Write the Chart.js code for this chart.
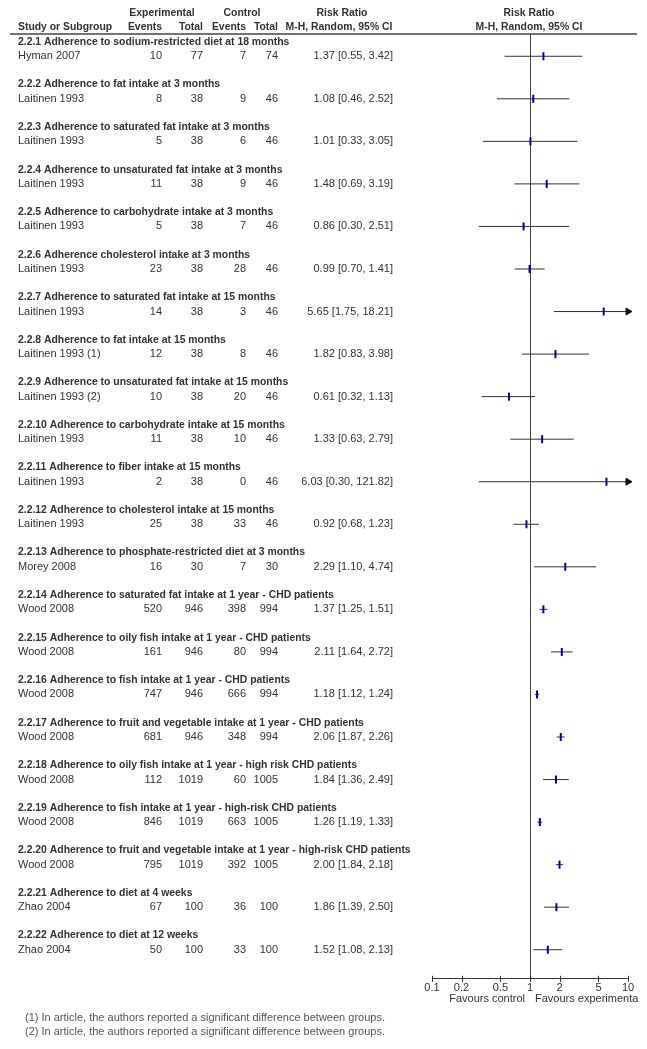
<!DOCTYPE html>
<html>
<head>
<meta charset="utf-8">
<script src="https://cdn.jsdelivr.net/npm/chart.js@4.4.0/dist/chart.umd.min.js"></script>
<style>
  html, body { margin: 0; padding: 0; background: #fff; }
  #wrap { width: 647px; height: 1049px; }
</style>
</head>
<body>
<div id="wrap"><canvas id="forest" width="647" height="1049"></canvas></div>
<script>
// Subgroups and their single study
const subgroups = [
    '2.2.1 Adherence to sodium-restricted diet at 18 months',
    '2.2.2 Adherence to fat intake at 3 months',
    '2.2.3 Adherence to saturated fat intake at 3 months',
    '2.2.4 Adherence to unsaturated fat intake at 3 months',
    '2.2.5 Adherence to carbohydrate intake at 3 months',
    '2.2.6 Adherence cholesterol intake at 3 months',
    '2.2.7 Adherence to saturated fat intake at 15 months',
    '2.2.8 Adherence to fat intake at 15 months',
    '2.2.9 Adherence to unsaturated fat intake at 15 months',
    '2.2.10 Adherence to carbohydrate intake at 15 months',
    '2.2.11 Adherence to fiber intake at 15 months',
    '2.2.12 Adherence to cholesterol intake at 15 months',
    '2.2.13 Adherence to phosphate-restricted diet at 3 months',
    '2.2.14 Adherence to saturated fat intake at 1 year - CHD patients',
    '2.2.15 Adherence to oily fish intake at 1 year - CHD patients',
    '2.2.16 Adherence to fish intake at 1 year - CHD patients',
    '2.2.17 Adherence to fruit and vegetable intake at 1 year - CHD patients',
    '2.2.18 Adherence to oily fish intake at 1 year - high risk CHD patients',
    '2.2.19 Adherence to fish intake at 1 year - high-risk CHD patients',
    '2.2.20 Adherence to fruit and vegetable intake at 1 year - high-risk CHD patients',
    '2.2.21 Adherence to diet at 4 weeks',
    '2.2.22 Adherence to diet at 12 weeks'
];
const studies = ['Hyman 2007', 'Laitinen 1993', 'Laitinen 1993', 'Laitinen 1993', 'Laitinen 1993',
    'Laitinen 1993', 'Laitinen 1993', 'Laitinen 1993 (1)', 'Laitinen 1993 (2)', 'Laitinen 1993',
    'Laitinen 1993', 'Laitinen 1993', 'Morey 2008', 'Wood 2008', 'Wood 2008', 'Wood 2008',
    'Wood 2008', 'Wood 2008', 'Wood 2008', 'Wood 2008', 'Zhao 2004', 'Zhao 2004'];
const expEvents = [10, 8, 5, 11, 5, 23, 14, 12, 10, 11, 2, 25, 16, 520, 161, 747, 681, 112, 846, 795, 67, 50];
const expTotal  = [77, 38, 38, 38, 38, 38, 38, 38, 38, 38, 38, 38, 30, 946, 946, 946, 946, 1019, 1019, 1019, 100, 100];
const ctlEvents = [7, 9, 6, 9, 7, 28, 3, 8, 20, 10, 0, 33, 7, 398, 80, 666, 348, 60, 663, 392, 36, 33];
const ctlTotal  = [74, 46, 46, 46, 46, 46, 46, 46, 46, 46, 46, 46, 30, 994, 994, 994, 994, 1005, 1005, 1005, 100, 100];
const rr    = [1.37, 1.08, 1.01, 1.48, 0.86, 0.99, 5.65, 1.82, 0.61, 1.33, 6.03, 0.92, 2.29, 1.37, 2.11, 1.18, 2.06, 1.84, 1.26, 2.00, 1.86, 1.52];
const ciLow = [0.55, 0.46, 0.33, 0.69, 0.30, 0.70, 1.75, 0.83, 0.32, 0.63, 0.30, 0.68, 1.10, 1.25, 1.64, 1.12, 1.87, 1.36, 1.19, 1.84, 1.39, 1.08];
const ciHigh = [3.42, 2.52, 3.05, 3.19, 2.51, 1.41, 18.21, 3.98, 1.13, 2.79, 121.82, 1.23, 4.74, 1.51, 2.72, 1.24, 2.26, 2.49, 1.33, 2.18, 2.50, 2.13];
const tickVals = [0.1, 0.2, 0.5, 1, 2, 5, 10];
const footnotes = [
    '(1) In article, the authors reported a significant difference between groups.',
    '(2) In article, the authors reported a significant difference between groups.'
];

const X_MIN = 0.1, X_MAX = 10;
const FONT = '"Liberation Sans", Arial, sans-serif';
const BOLD = 'bold 10.4px ' + FONT;
const TEXT = '#333';

// each subgroup takes 3 lines: title, study, blank
const studyLine = i => 3 * i + 1;

const ciData = [];
rr.forEach((v, i) => {
    const y = studyLine(i);
    ciData.push({ x: Math.max(ciLow[i], X_MIN), y: y });
    ciData.push({ x: Math.min(ciHigh[i], X_MAX), y: y });
    ciData.push({ x: 1, y: null });
});
const pointData = rr.map((v, i) => ({ x: v, y: studyLine(i) }));
const arrowData = [];
rr.forEach((v, i) => { if (ciHigh[i] > X_MAX) arrowData.push({ x: X_MAX, y: studyLine(i) }); });

function fmt(v) { return v.toFixed(2); }

const tablePlugin = {
    id: 'tablePlugin',
    afterDraw(chart) {
        const ctx = chart.ctx;
        const ys = chart.scales.y;
        const xs = chart.scales.x;
        const area = chart.chartArea;
        ctx.save();
        ctx.fillStyle = TEXT;
        ctx.textBaseline = 'middle';

        // column headings
        ctx.font = BOLD;
        ctx.textAlign = 'center';
        ctx.fillText('Experimental', 162, 13);
        ctx.fillText('Control', 242, 13);
        ctx.fillText('Risk Ratio', 342, 13);
        ctx.fillText('Risk Ratio', 529, 13);
        ctx.fillText('M-H, Random, 95% CI', 339, 27);
        ctx.fillText('M-H, Random, 95% CI', 529, 27);
        ctx.textAlign = 'left';
        ctx.fillText('Study or Subgroup', 18, 27);
        ctx.textAlign = 'right';
        ctx.fillText('Events', 162, 27);
        ctx.fillText('Total', 203, 27);
        ctx.fillText('Events', 246, 27);
        ctx.fillText('Total', 278, 27);

        // header rule
        ctx.strokeStyle = '#444';
        ctx.lineWidth = 1.5;
        ctx.beginPath();
        ctx.moveTo(10, 34);
        ctx.lineTo(637, 34);
        ctx.stroke();

        // rows
        subgroups.forEach((title, i) => {
            const yt = ys.getPixelForValue(3 * i);
            const yr = ys.getPixelForValue(studyLine(i));
            ctx.font = BOLD;
            ctx.textAlign = 'left';
            ctx.fillText(title, 18, yt);
            ctx.font = '11px ' + FONT;
            ctx.fillText(studies[i], 18, yr);
            ctx.textAlign = 'right';
            ctx.fillText(String(expEvents[i]), 162, yr);
            ctx.fillText(String(expTotal[i]), 203, yr);
            ctx.fillText(String(ctlEvents[i]), 246, yr);
            ctx.fillText(String(ctlTotal[i]), 278, yr);
            ctx.fillText(fmt(rr[i]) + ' [' + fmt(ciLow[i]) + ', ' + fmt(ciHigh[i]) + ']', 393, yr);
        });

        // axis tick marks crossing the axis line
        ctx.strokeStyle = '#333';
        ctx.lineWidth = 1;
        tickVals.forEach(v => {
            const px = Math.round(xs.getPixelForValue(v)) + 0.5;
            ctx.beginPath();
            ctx.moveTo(px, area.bottom - 3);
            ctx.lineTo(px, area.bottom + 3);
            ctx.stroke();
        });

        // favours labels
        ctx.font = '11px ' + FONT;
        ctx.textAlign = 'right';
        ctx.fillText('Favours control', xs.getPixelForValue(1) - 5, 999);
        ctx.textAlign = 'left';
        ctx.fillText('Favours experimenta', xs.getPixelForValue(1) + 5, 999);

        // footnotes
        ctx.fillStyle = '#555';
        footnotes.forEach((f, k) => ctx.fillText(f, 25, 1018 + k * 14));
        ctx.restore();
    }
};

new Chart(document.getElementById('forest'), {
    type: 'scatter',
    data: {
        datasets: [{
            label: 'CI',
            type: 'line',
            data: ciData,
            borderColor: '#333',
            borderWidth: 1,
            pointRadius: 0,
            spanGaps: false,
            clip: false,
            order: 3
        }, {
            label: 'Arrow',
            data: arrowData,
            pointStyle: 'triangle',
            rotation: 90,
            pointRadius: 4,
            backgroundColor: '#111',
            borderColor: '#111',
            borderWidth: 1,
            clip: false,
            order: 2
        }, {
            label: 'Risk ratio',
            data: pointData,
            pointStyle: 'line',
            rotation: 90,
            pointRadius: 4,
            borderColor: '#0000a8',
            borderWidth: 2,
            clip: false,
            order: 1
        }]
    },
    options: {
        responsive: false,
        animation: false,
        events: [],
        layout: {
            padding: { left: 432, right: 19, top: 34, bottom: 51 }
        },
        plugins: {
            legend: { display: false },
            tooltip: { enabled: false }
        },
        scales: {
            x: {
                type: 'logarithmic',
                min: X_MIN,
                max: X_MAX,
                afterBuildTicks: function(scale) {
                    scale.ticks = tickVals.map(v => ({ value: v }));
                },
                border: { display: true, color: '#333', width: 1 },
                grid: {
                    drawTicks: false,
                    color: ctx => (ctx.tick && ctx.tick.value === 1) ? '#444' : 'rgba(0,0,0,0)'
                },
                ticks: {
                    padding: 3,
                    autoSkip: false,
                    maxRotation: 0,
                    color: TEXT,
                    font: { size: 11, family: FONT },
                    callback: v => String(v)
                }
            },
            y: {
                type: 'linear',
                display: false,
                reverse: true,
                min: -0.57,
                max: 66.05
            }
        }
    },
    plugins: [tablePlugin]
});
</script>
</body>
</html>
